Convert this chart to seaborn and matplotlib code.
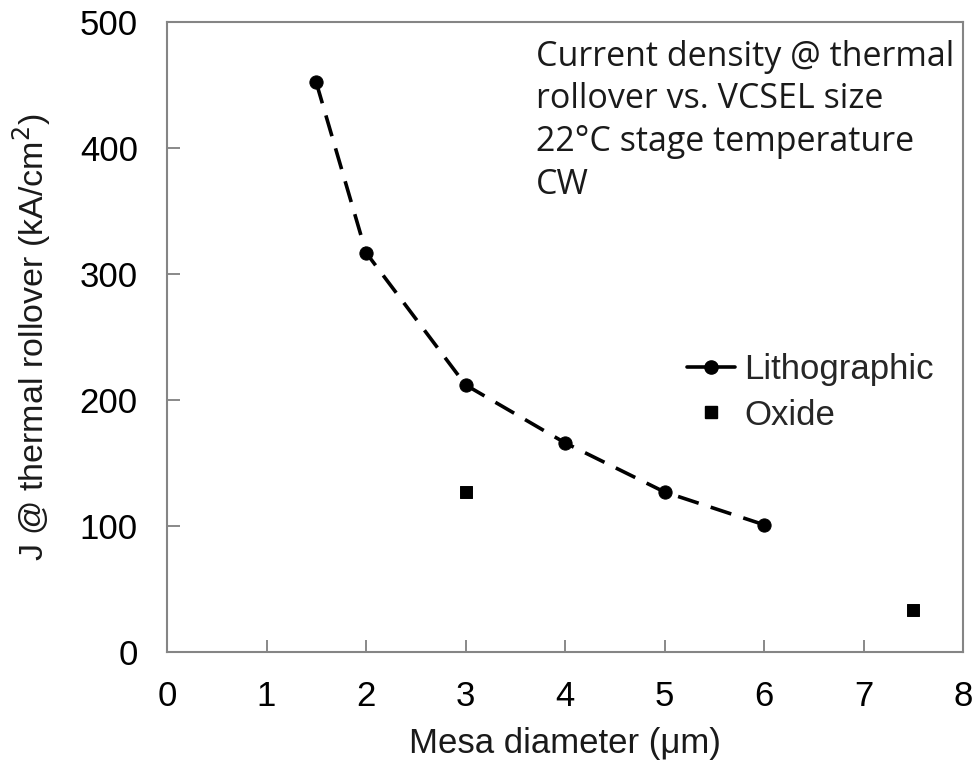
import matplotlib
matplotlib.use("Agg")
import matplotlib.pyplot as plt
import seaborn as sns
from matplotlib.lines import Line2D

sns.set_theme(style="white")
plt.rcParams['font.family'] = ['Liberation Sans', 'DejaVu Sans']

litho_x = [1.5, 2, 3, 4, 5, 6]
litho_y = [452, 317, 212, 166, 127, 101]
oxide_x = [3, 7.5]
oxide_y = [127, 33]
x_ticks = [0, 1, 2, 3, 4, 5, 6, 7, 8]
y_ticks = [0, 100, 200, 300, 400, 500]

fig = plt.figure(figsize=(9.77, 7.63), dpi=100)
ax = fig.add_axes([167/977, 1-652/763, (963-167)/977, (652-22)/763])

sns.lineplot(x=litho_x, y=litho_y, ax=ax, color='black', linewidth=2.6,
             marker='o', markersize=9.5, markeredgecolor='black', legend=False)
ln = ax.lines[-1]
ln.set_dashes([6, 3.5])
sns.scatterplot(x=oxide_x, y=oxide_y, ax=ax, color='black', marker='s', s=75,
                edgecolor='black', legend=False)

ax.set_xlim(0, 8)
ax.set_ylim(0, 500)
ax.set_xticks(x_ticks)
ax.set_yticks(y_ticks)
ax.tick_params(axis='both', direction='in', length=9, width=1.3, color='#808080',
               labelsize=25, labelcolor='black', bottom=True, left=True)
ax.tick_params(axis='x', pad=20)
ax.tick_params(axis='y', pad=21)
for s in ax.spines.values():
    s.set_color('#858585')
    s.set_linewidth(1.5)
    s.set_visible(True)

ax.set_xlabel('Mesa diameter (μm)', fontsize=25, labelpad=10, color='#1a1a1a')
ax.set_ylabel('J @ thermal rollover (kA/cm$^2$)', fontsize=24.5, labelpad=19, color='#1a1a1a')

ax.text(0.464, 0.972, 'Current density @ thermal\nrollover vs. VCSEL size\n22°C stage temperature\nCW',
        transform=ax.transAxes, ha='left', va='top', fontsize=24.5,
        family=['Open Sans', 'DejaVu Sans'], linespacing=1.34, color='#1a1a1a')

handles = [Line2D([0], [0], color='black', linewidth=2.6, marker='o', markersize=9.5),
           Line2D([0], [0], color='black', linestyle='none', marker='s', markersize=8.5)]
ax.legend(handles, ['Lithographic', 'Oxide'], loc='center left',
          bbox_to_anchor=(0.631, 0.412), frameon=False, fontsize=25,
          handlelength=1.4, handletextpad=0.25, labelspacing=0.35, borderpad=0)

fig.savefig('out.png', dpi=100)
